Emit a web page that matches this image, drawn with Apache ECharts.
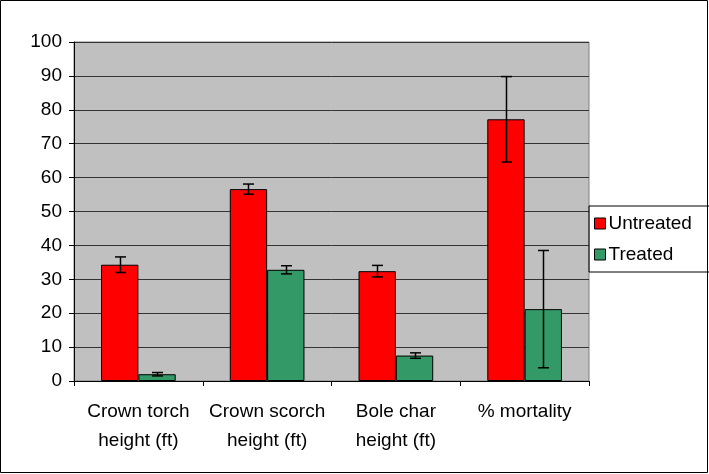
<!DOCTYPE html>
<html>
<head>
<meta charset="utf-8">
<script src="https://cdn.jsdelivr.net/npm/echarts@6/dist/echarts.min.js"></script>
<style>
  html, body { margin: 0; padding: 0; background: #fff; }
  #chart { width: 709px; height: 474px; }
</style>
</head>
<body>
<div id="chart"></div>
<script>
// data
const categories = ['Crown torch\nheight (ft)', 'Crown scorch\nheight (ft)', 'Bole char\nheight (ft)', '% mortality'];
const untreated = [34.3, 56.6, 32.4, 77.2];
const untreatedErr = [2.3, 1.5, 1.7, 12.6];
const treated = [2.0, 32.8, 7.5, 21.2];
const treatedErr = [0.5, 1.2, 0.8, 17.3];
const yTicks = [0, 10, 20, 30, 40, 50, 60, 70, 80, 90, 100];

const FONT = 'Liberation Sans';
const GAP = 0.42; // barCategoryGap as fraction

const chart = echarts.init(document.getElementById('chart'));

// error bar drawn at the centre of the left (-1) or right (+1) bar
function errorBars(side) {
  return function (params, api) {
    const x = api.value(0);
    const v = api.value(1);
    const e = api.value(2);
    const bandW = api.size([1, 0])[0];
    const barW = bandW * (1 - GAP) / 2;
    const top = api.coord([x, v + e]);
    const bot = api.coord([x, v - e]);
    const cx = Math.round(top[0] + side * barW / 2) + 0.5;
    const cap = 5.5;
    const style = { stroke: '#000', lineWidth: 1.5 };
    return {
      type: 'group',
      children: [
        { type: 'line', shape: { x1: cx, y1: top[1], x2: cx, y2: bot[1] }, style: style },
        { type: 'line', shape: { x1: cx - cap, y1: top[1], x2: cx + cap, y2: top[1] }, style: style },
        { type: 'line', shape: { x1: cx - cap, y1: bot[1], x2: cx + cap, y2: bot[1] }, style: style }
      ]
    };
  };
}

const option = {
  animation: false,
  textStyle: { fontFamily: FONT },
  graphic: [{
    type: 'rect',
    shape: { x: 0.5, y: 0.5, width: 707, height: 472 },
    style: { fill: 'none', stroke: '#000', lineWidth: 1 },
    silent: true
  }],
  grid: {
    left: 74, right: 120, top: 42, bottom: 93,
    show: true,
    backgroundColor: '#C0C0C0',
    borderColor: '#808080',
    borderWidth: 1
  },
  legend: {
    data: ['Untreated', 'Treated'],
    orient: 'vertical',
    left: 589, top: 206,
    icon: 'rect',
    itemWidth: 11, itemHeight: 11,
    itemGap: 12,
    padding: [8, 20, 8, 5],
    borderColor: '#000', borderWidth: 1,
    itemStyle: { borderColor: '#000', borderWidth: 1 },
    textStyle: { fontFamily: FONT, fontSize: 19, color: '#000', padding: [0, 0, 0, -2] }
  },
  xAxis: {
    type: 'category',
    data: categories,
    axisLine: { lineStyle: { color: '#000', width: 1 } },
    axisTick: { show: true, length: 5, lineStyle: { color: '#000' } },
    axisLabel: { interval: 0, color: '#000', fontFamily: FONT, fontSize: 19, lineHeight: 29, margin: 16 }
  },
  yAxis: {
    type: 'value',
    min: yTicks[0], max: yTicks[yTicks.length - 1], interval: 10,
    axisLine: { show: true, lineStyle: { color: '#000', width: 1 } },
    axisTick: { show: true, length: 5, lineStyle: { color: '#000' } },
    axisLabel: { color: '#000', fontFamily: FONT, fontSize: 19, margin: 12 },
    splitLine: { show: true, lineStyle: { color: '#333', width: 1 } }
  },
  series: [
    {
      name: 'Untreated', type: 'bar', data: untreated,
      barGap: '0%', barCategoryGap: (GAP * 100) + '%',
      itemStyle: { color: '#FF0000', borderColor: '#000', borderWidth: 1 }
    },
    {
      name: 'Treated', type: 'bar', data: treated,
      itemStyle: { color: '#339966', borderColor: '#000', borderWidth: 1 }
    },
    {
      type: 'custom', name: 'errU', z: 10,
      renderItem: errorBars(-1),
      data: untreated.map((v, i) => [i, v, untreatedErr[i]])
    },
    {
      type: 'custom', name: 'errT', z: 10,
      renderItem: errorBars(1),
      data: treated.map((v, i) => [i, v, treatedErr[i]])
    }
  ]
};

chart.setOption(option);
</script>
</body>
</html>
